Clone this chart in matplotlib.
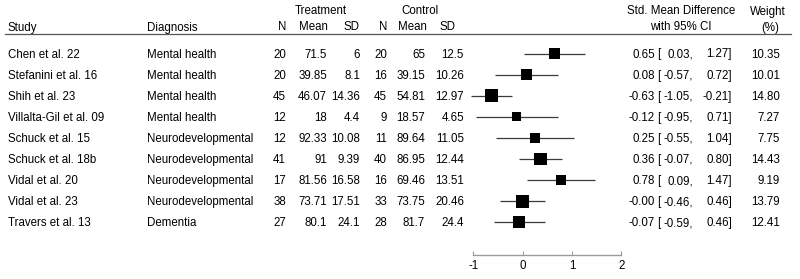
import numpy as np
import matplotlib.pyplot as plt
import matplotlib.transforms as mtransforms
from matplotlib.lines import Line2D

plt.rcParams['font.family'] = ['Liberation Sans', 'DejaVu Sans']

studies = ["Chen et al. 22", "Stefanini et al. 16", "Shih et al. 23", "Villalta-Gil et al. 09",
           "Schuck et al. 15", "Schuck et al. 18b", "Vidal et al. 20", "Vidal et al. 23",
           "Travers et al. 13"]
diagnosis = ["Mental health", "Mental health", "Mental health", "Mental health",
             "Neurodevelopmental", "Neurodevelopmental", "Neurodevelopmental",
             "Neurodevelopmental", "Dementia"]
n_t = [20, 20, 45, 12, 12, 41, 17, 38, 27]
mean_t = [71.5, 39.85, 46.07, 18, 92.33, 91, 81.56, 73.71, 80.1]
sd_t = [6, 8.1, 14.36, 4.4, 10.08, 9.39, 16.58, 17.51, 24.1]
n_c = [20, 16, 45, 9, 11, 40, 16, 33, 28]
mean_c = [65, 39.15, 54.81, 18.57, 89.64, 86.95, 69.46, 73.75, 81.7]
sd_c = [12.5, 10.26, 12.97, 4.65, 11.05, 12.44, 13.51, 20.46, 24.4]
smd = [0.65, 0.08, -0.63, -0.12, 0.25, 0.36, 0.78, -0.0, -0.07]
ci_lo = [0.03, -0.57, -1.05, -0.95, -0.55, -0.07, 0.09, -0.46, -0.59]
ci_hi = [1.27, 0.72, -0.21, 0.71, 1.04, 0.80, 1.47, 0.46, 0.46]
weight = [10.35, 10.01, 14.80, 7.27, 7.75, 14.43, 9.19, 13.79, 12.41]
xticks = [-1, 0, 1, 2]

W, H = 800, 279
fig = plt.figure(figsize=(W / 100, H / 100), dpi=100)

def fx(px):
    return px / W

def fy(py):
    return 1 - py / H

# forest panel, x scale: 0 at 522.7px, 49.3 px per unit
x0, unit = 522.7, 49.3
left_px, right_px, top_px, bot_px = 450, 650, 40, 254.5
ax = fig.add_axes([fx(left_px), fy(bot_px), fx(right_px - left_px), (bot_px - top_px) / H])
ax.set_xlim((left_px - x0) / unit, (right_px - x0) / unit)
row0, step = 53.5, 21.1
ax.set_ylim((bot_px - row0) / step, (top_px - row0) / step)

rows = np.arange(len(studies))
ax.hlines(rows, ci_lo, ci_hi, color='#3a3a3a', lw=0.9, zorder=2)
ax.scatter(smd, rows, s=np.array(weight) * 6.0, marker='s', color='black',
           linewidths=0, zorder=3)

for s in ['top', 'left', 'right']:
    ax.spines[s].set_visible(False)
ax.spines['bottom'].set_bounds(xticks[0], xticks[-1])
ax.spines['bottom'].set_color('#9a9a9a')
ax.spines['bottom'].set_linewidth(1.0)
ax.set_yticks([])
ax.set_xticks(xticks)
ax.set_xticklabels([str(t) for t in xticks])
ax.tick_params(axis='x', direction='in', length=3, width=0.8, color='#9a9a9a',
               labelsize=8.3, pad=4)
ax.patch.set_alpha(0)

fs = 8.3
# x in figure pixels, y in row units
trans = mtransforms.blended_transform_factory(fig.transFigure, ax.transData)
off = 4.0 / step  # baseline offset below the row centre

for i in rows:
    y = i + off
    kw = dict(transform=trans, fontsize=fs, va='baseline', clip_on=False)
    fig.text(fx(8), y, studies[i], ha='left', **kw)
    fig.text(fx(147), y, diagnosis[i], ha='left', **kw)
    fig.text(fx(286), y, f"{n_t[i]}", ha='right', **kw)
    fig.text(fx(327), y, f"{mean_t[i]:g}", ha='right', **kw)
    fig.text(fx(360), y, f"{sd_t[i]:g}", ha='right', **kw)
    fig.text(fx(387), y, f"{n_c[i]}", ha='right', **kw)
    fig.text(fx(425), y, f"{mean_c[i]:g}", ha='right', **kw)
    fig.text(fx(464), y, f"{sd_c[i]:g}", ha='right', **kw)
    fig.text(fx(655), y, f"{smd[i]:.2f}", ha='right', **kw)
    fig.text(fx(657), y, "[", ha='left', **kw)
    fig.text(fx(693), y, f"{ci_lo[i]:.2f},", ha='right', **kw)
    fig.text(fx(732), y, f"{ci_hi[i]:.2f}]", ha='right', **kw)
    fig.text(fx(780), y, f"{weight[i]:.2f}", ha='right', **kw)

# headers
h1, h2 = fy(14.5), fy(30.5)
hk = dict(fontsize=fs, va='baseline')
fig.text(fx(321), h1, "Treatment", ha='center', **hk)
fig.text(fx(420), h1, "Control", ha='center', **hk)
fig.text(fx(681), h1, "Std. Mean Difference", ha='center', **hk)
fig.text(fx(768), h1, "Weight", ha='center', **hk)
fig.text(fx(8), h2, "Study", ha='left', **hk)
fig.text(fx(147), h2, "Diagnosis", ha='left', **hk)
fig.text(fx(286), h2, "N", ha='right', **hk)
fig.text(fx(328), h2, "Mean", ha='right', **hk)
fig.text(fx(360), h2, "SD", ha='right', **hk)
fig.text(fx(387), h2, "N", ha='right', **hk)
fig.text(fx(427), h2, "Mean", ha='right', **hk)
fig.text(fx(455), h2, "SD", ha='right', **hk)
fig.text(fx(681), h2, "with 95% CI", ha='center', **hk)
fig.text(fx(770), h2, "(%)", ha='center', **hk)

fig.add_artist(Line2D([fx(5), fx(791)], [fy(34), fy(34)], transform=fig.transFigure,
                      color='#555555', lw=0.9))

fig.savefig("out.png", dpi=100)
